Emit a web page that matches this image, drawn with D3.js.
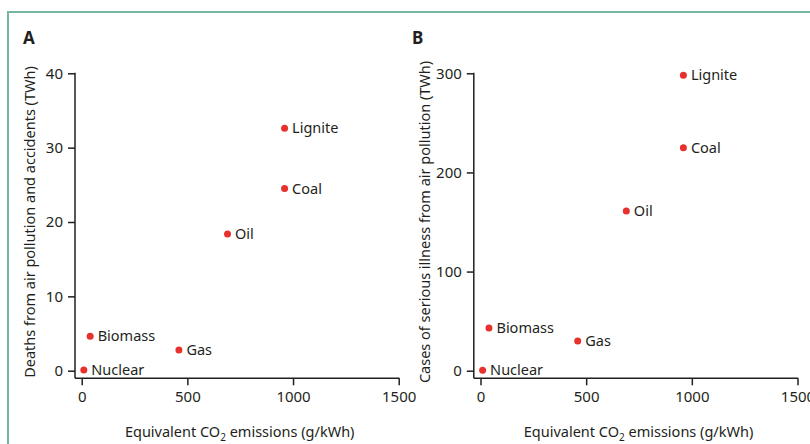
<!DOCTYPE html>
<html><head><meta charset="utf-8">
<script src="https://cdn.jsdelivr.net/npm/d3@7"></script>
<style>
body{margin:0;background:#fff;}
svg text{font-family:"Noto Sans",sans-serif;fill:#231f20;}
</style></head>
<body><svg id="c" width="810" height="444"></svg>
<script>
const sources = ["Nuclear","Biomass","Gas","Oil","Coal","Lignite"];
const co2 = [10, 40, 460, 690, 960, 960];
const deaths = [0.1, 4.63, 2.8, 18.4, 24.5, 32.6];
const illness = [0.4, 43, 30, 161, 225, 298];
const xTicks = [0, 500, 1000, 1500];
const yTicksA = [0, 10, 20, 30, 40];
const yTicksB = [0, 100, 200, 300];

const svg = d3.select("#c");
// frame
svg.append("path").attr("d","M8,444 V12 H810").attr("fill","none")
  .attr("stroke","#73b79c").attr("stroke-width",2);

function panel(opt){
  const g = svg.append("g");
  const x = d3.scaleLinear().domain([0,1500]).range([opt.x0, opt.x0+317]);
  const y = d3.scaleLinear().domain([0,opt.ymax]).range([370.7, 73.3]);
  const axL = opt.x0 - 6.7, axB = 378.3;
  g.append("line").attr("x1",axL).attr("x2",axL).attr("y1",y(opt.ymax)-0.5).attr("y2",axB)
    .attr("stroke","#231f20").attr("stroke-width",1.5);
  g.append("line").attr("x1",axL).attr("x2",x(1500)+0.75).attr("y1",axB).attr("y2",axB)
    .attr("stroke","#231f20").attr("stroke-width",1.5);
  const ya = g.append("g").attr("transform",`translate(${axL},0)`)
    .call(d3.axisLeft(y).tickValues(opt.yTicks).tickSize(7).tickPadding(5));
  const xa = g.append("g").attr("transform",`translate(0,${axB})`)
    .call(d3.axisBottom(x).tickValues(xTicks).tickSize(7).tickPadding(6.5).tickFormat(d3.format("d")));
  [ya,xa].forEach(a=>{
    a.select(".domain").remove();
    a.selectAll("line").attr("stroke","#231f20").attr("stroke-width",1.5);
    a.selectAll("text").attr("font-size",15).attr("fill","#231f20");
  });
  const vals = opt.vals;
  g.selectAll("circle.p").data(sources).join("circle")
    .attr("cx",(d,i)=>x(co2[i])).attr("cy",(d,i)=>y(vals[i])).attr("r",3.5).attr("fill","#e8312d");
  g.selectAll("text.l").data(sources).join("text")
    .attr("x",(d,i)=>x(co2[i])+7.5).attr("y",(d,i)=>y(vals[i])+5)
    .attr("font-size",14.5).text(d=>d);
  g.append("text").attr("x",opt.lx).attr("y",44).attr("font-size",17).attr("font-weight","bold").text(opt.letter);
  const xl = g.append("text").attr("x",opt.x0+158).attr("y",437).attr("text-anchor","middle").attr("font-size",14.5);
  xl.append("tspan").text("Equivalent CO");
  xl.append("tspan").attr("font-size",10).attr("dy",4).text("2");
  xl.append("tspan").attr("dy",-4).text(" emissions (g/kWh)");
  g.append("text").attr("transform",`translate(${opt.ylx},222) rotate(-90)`)
    .attr("text-anchor","middle").attr("font-size",14.5).text(opt.ylabel);
}
panel({x0:81.7, ymax:40, yTicks:yTicksA, vals:deaths, letter:"A", lx:23, ylx:35,
  ylabel:"Deaths from air pollution and accidents (TWh)"});
panel({x0:480.5, ymax:300, yTicks:yTicksB, vals:illness, letter:"B", lx:412, ylx:430,
  ylabel:"Cases of serious illness from air pollution (TWh)"});
</script></body></html>
